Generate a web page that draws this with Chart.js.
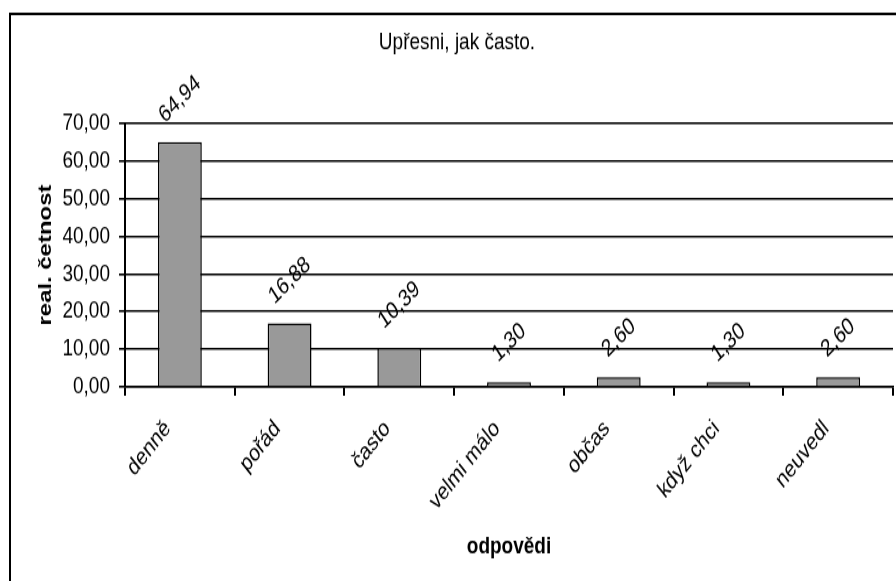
<!DOCTYPE html>
<html>
<head>
<meta charset="utf-8">
<script src="https://cdn.jsdelivr.net/npm/chart.js@4"></script>
<style>
    html, body { margin: 0; padding: 0; background: #fff; }
    #wrap { width: 896px; height: 581px; overflow: hidden; }
    /* the original picture is stretched vertically, so draw at 896x461 and stretch */
    #chart { display: block; width: 896px; height: 581px; }
</style>
</head>
<body>
<div id="wrap"><canvas id="chart" width="896" height="461" style="width:896px;height:581px"></canvas></div>
<script>
const categories = ["denně", "pořád", "často", "velmi málo", "občas", "když chci", "neuvedl"];
const values = [64.94, 16.88, 10.39, 1.30, 2.60, 1.30, 2.60];
const yTicks = [0, 10, 20, 30, 40, 50, 60, 70];

const chartTitle = "Upřesni, jak často.";
const xTitle = "odpovědi";
const yTitle = "real. četnost";

const fontFamily = "'Liberation Sans', Arial, sans-serif";
const fmt = v => v.toFixed(2).replace(".", ",");

// frame + title drawn by hand, Excel style
const frame = {
    id: "frame",
    beforeDraw(chart) {
        const ctx = chart.ctx;
        ctx.save();
        ctx.fillStyle = "#fff";
        ctx.fillRect(0, 0, chart.width, chart.height);
        ctx.strokeStyle = "#000";
        ctx.lineWidth = 2;
        ctx.strokeRect(10, 11, 2000, 2000);
        ctx.fillStyle = "#000";
        ctx.font = "19px " + fontFamily;
        ctx.textAlign = "center";
        ctx.textBaseline = "alphabetic";
        ctx.fillText(chartTitle, 457, 39);
        ctx.restore();
    }
};

// rotated value labels above the bars
const barLabels = {
    id: "barLabels",
    afterDatasetsDraw(chart) {
        const ctx = chart.ctx;
        const meta = chart.getDatasetMeta(0);
        ctx.save();
        ctx.font = "19px " + fontFamily;
        ctx.fillStyle = "#000";
        ctx.textAlign = "center";
        ctx.textBaseline = "middle";
        meta.data.forEach((bar, i) => {
            const txt = fmt(values[i]);
            const w = ctx.measureText(txt).width;
            ctx.save();
            ctx.translate(bar.x, bar.y - (22 + w * 0.25));
            ctx.rotate(-39 * Math.PI / 180);
            ctx.fillText(txt, 0, 0);
            ctx.restore();
        });
        ctx.restore();
    }
};

new Chart(document.getElementById("chart"), {
    type: "bar",
    data: {
        labels: categories,
        datasets: [{
            data: values,
            backgroundColor: "#999999",
            borderColor: "#000",
            borderWidth: 1.5,
            barPercentage: 0.4,
            categoryPercentage: 1
        }]
    },
    options: {
        responsive: false,
        animation: false,
        devicePixelRatio: 1,
        layout: { padding: { left: 0, right: 3, top: 97.6, bottom: 0 } },
        plugins: {
            legend: { display: false },
            title: { display: false },
            tooltip: { enabled: false }
        },
        scales: {
            x: {
                afterFit: s => { s.height = 461 - 307.1; },
                grid: {
                    offset: true,
                    drawOnChartArea: true,
                    color: c => c.index === categories.length ? "#000" : "rgba(0,0,0,0)",
                    tickColor: "#000",
                    lineWidth: 2,
                    tickLength: 7
                },
                border: { display: true, color: "#000", width: 1.6 },
                ticks: {
                    autoSkip: false,
                    minRotation: 45,
                    maxRotation: 45,
                    padding: 15,
                    labelOffset: -12,
                    color: "#000",
                    font: { family: fontFamily, size: 19 }
                },
                title: {
                    display: true,
                    text: xTitle,
                    color: "#000",
                    padding: 15.6,
                    font: { family: fontFamily, size: 19, weight: "bold" }
                }
            },
            y: {
                min: 0,
                max: 70,
                afterFit: s => { s.width = 125; },
                afterBuildTicks: s => { s.ticks = yTicks.map(v => ({ value: v })); },
                grid: {
                    color: "#000",
                    lineWidth: 1.6,
                    tickLength: 6
                },
                border: { display: true, color: "#000", width: 2 },
                ticks: {
                    padding: 9,
                    color: "#000",
                    font: { family: fontFamily, size: 19 },
                    callback: v => fmt(v)
                },
                title: {
                    display: true,
                    text: yTitle,
                    color: "#000",
                    padding: 34,
                    font: { family: fontFamily, size: 19, weight: "bold" }
                }
            }
        }
    },
    plugins: [frame, barLabels]
});
</script>
</body>
</html>
